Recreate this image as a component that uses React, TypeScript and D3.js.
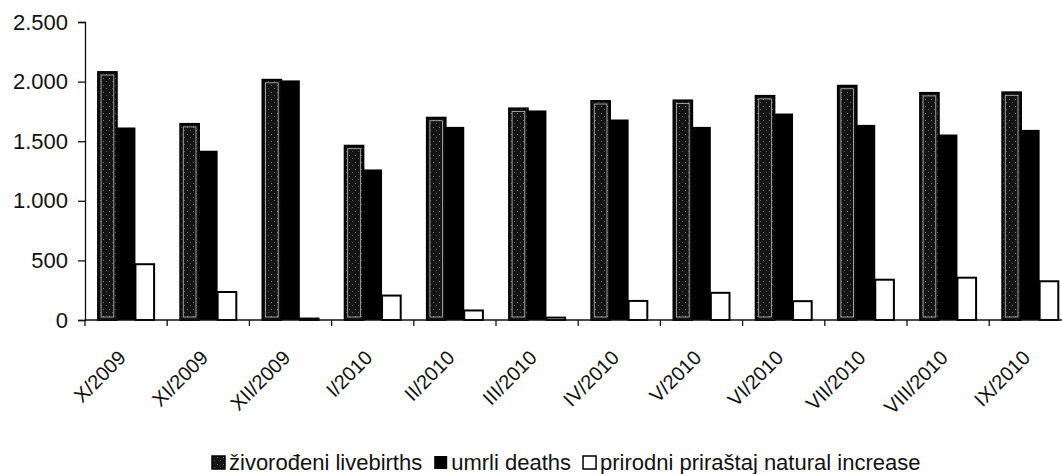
import React, { useEffect, useRef } from 'react';
import * as d3 from 'd3';

// months on the x axis
const months = ['X/2009', 'XI/2009', 'XII/2009', 'I/2010', 'II/2010', 'III/2010', 'IV/2010', 'V/2010', 'VI/2010', 'VII/2010', 'VIII/2010', 'IX/2010'];
// values
const livebirths = [2080, 1645, 2015, 1462, 1697, 1775, 1837, 1842, 1880, 1965, 1905, 1910];
const deaths = [1615, 1420, 2010, 1263, 1620, 1758, 1682, 1620, 1732, 1637, 1556, 1595];
const naturalIncrease = [468, 235, 12, 205, 80, 20, 160, 228, 158, 338, 355, 325];
const seriesNames = ['živorođeni livebirths', 'umrli deaths', 'prirodni priraštaj natural increase'];
const yTicks = [0, 500, 1000, 1500, 2000, 2500];

const FONT = '"Liberation Sans", Arial, sans-serif';

export default function App() {
    const ref = useRef<SVGSVGElement>(null);

    useEffect(() => {
        const svg = d3.select(ref.current);
        svg.selectAll('*').remove();

        var left = 85, top = 22, bottom = 320, bandW = 82.2;
        var right = left + bandW * months.length;

        // stipple pattern for the livebirths bars
        var defs = svg.append('defs');
        var pat = defs.append('pattern')
            .attr('id', 'stip')
            .attr('width', 6).attr('height', 7)
            .attr('patternUnits', 'userSpaceOnUse');
        pat.append('rect').attr('width', 6).attr('height', 7).attr('fill', '#141414');
        pat.append('rect').attr('x', 1).attr('y', 1).attr('width', 1).attr('height', 1).attr('fill', '#777');
        pat.append('rect').attr('x', 4).attr('y', 4).attr('width', 1).attr('height', 1).attr('fill', '#5a5a5a');

        var x0 = d3.scaleBand().domain(months).range([left, right]);
        var x1 = d3.scaleBand().domain(['a', 'b', 'c']).range([0, 56]);
        var y = d3.scaleLinear().domain([0, 2500]).range([bottom, top]);
        var off = (x0.bandwidth() - 56) / 2;

        // y axis
        var yAxis = svg.append('g')
            .attr('transform', 'translate(' + left + ',0)')
            .call(d3.axisLeft(y).tickValues(yTicks).tickSize(7).tickPadding(10)
                .tickFormat(d => d3.format(',')(d as number).replace(',', '.')));
        yAxis.select('.domain').attr('stroke', '#111').attr('stroke-width', 1.3);
        yAxis.selectAll('line').attr('stroke', '#111').attr('stroke-width', 1.3);
        yAxis.selectAll('text').attr('font-family', FONT).attr('font-size', 22).attr('fill', '#111');

        // bars
        var g = svg.append('g');
        months.forEach(function (m, i) {
            var bx = x0(m)! + off;
            var w = x1.bandwidth();
            // livebirths
            g.append('rect')
                .attr('x', bx + x1('a')!).attr('y', y(livebirths[i]))
                .attr('width', w).attr('height', bottom - y(livebirths[i]))
                .attr('fill', 'url(#stip)').attr('stroke', '#000').attr('stroke-width', 2);
            g.append('rect')
                .attr('x', bx + x1('a')! + 3).attr('y', y(livebirths[i]) + 3)
                .attr('width', w - 6).attr('height', Math.max(0, bottom - y(livebirths[i]) - 6))
                .attr('fill', 'none').attr('stroke', '#bbb').attr('stroke-width', 0.8);
            // deaths
            g.append('rect')
                .attr('x', bx + x1('b')!).attr('y', y(deaths[i]))
                .attr('width', w).attr('height', bottom - y(deaths[i]))
                .attr('fill', '#000');
            // natural increase
            g.append('rect')
                .attr('x', bx + x1('c')!).attr('y', y(naturalIncrease[i]))
                .attr('width', w).attr('height', bottom - y(naturalIncrease[i]))
                .attr('fill', '#fff').attr('stroke', '#000').attr('stroke-width', 2);
        });

        // x axis with ticks between the months
        var xg = svg.append('g');
        xg.append('line').attr('x1', left).attr('x2', right).attr('y1', bottom).attr('y2', bottom)
            .attr('stroke', '#111').attr('stroke-width', 1.3);
        months.concat(['end']).forEach(function (m, i) {
            var tx = left + i * bandW;
            xg.append('line').attr('x1', tx).attr('x2', tx).attr('y1', bottom).attr('y2', bottom + 6)
                .attr('stroke', '#111').attr('stroke-width', 1.3);
        });
        months.forEach(function (m) {
            var cx = x0(m)! + x0.bandwidth() / 2 + 1;
            xg.append('text')
                .attr('transform', 'translate(' + cx + ',' + (bottom + 39) + ') rotate(-45)')
                .attr('text-anchor', 'end')
                .attr('font-family', FONT).attr('font-size', 20).attr('fill', '#111')
                .text(m);
        });

        // legend
        var lg = svg.append('g').attr('transform', 'translate(0,470)');
        var cur = 212;
        seriesNames.forEach(function (name, i) {
            if (i === 0) {
                lg.append('rect').attr('x', cur).attr('y', -14).attr('width', 13).attr('height', 13)
                    .attr('fill', 'url(#stip)').attr('stroke', '#000').attr('stroke-width', 1.5);
            } else if (i === 1) {
                lg.append('rect').attr('x', cur).attr('y', -14).attr('width', 13).attr('height', 13).attr('fill', '#000');
            } else {
                lg.append('rect').attr('x', cur).attr('y', -14).attr('width', 13).attr('height', 13)
                    .attr('fill', '#fff').attr('stroke', '#000').attr('stroke-width', 1.5);
            }
            var t = lg.append('text').attr('x', cur + 17).attr('y', 0)
                .attr('font-family', FONT).attr('font-size', 22).attr('fill', '#111')
                .text(name);
            var len = (t.node() as SVGTextElement).getComputedTextLength();
            cur = cur + 17 + len + 12;
        });
    }, []);

    return (
        <div>
            <svg ref={ref} width={1062} height={474}
                style={{ position: 'absolute', left: 0, top: 0, background: '#fff' }} />
        </div>
    );
}
